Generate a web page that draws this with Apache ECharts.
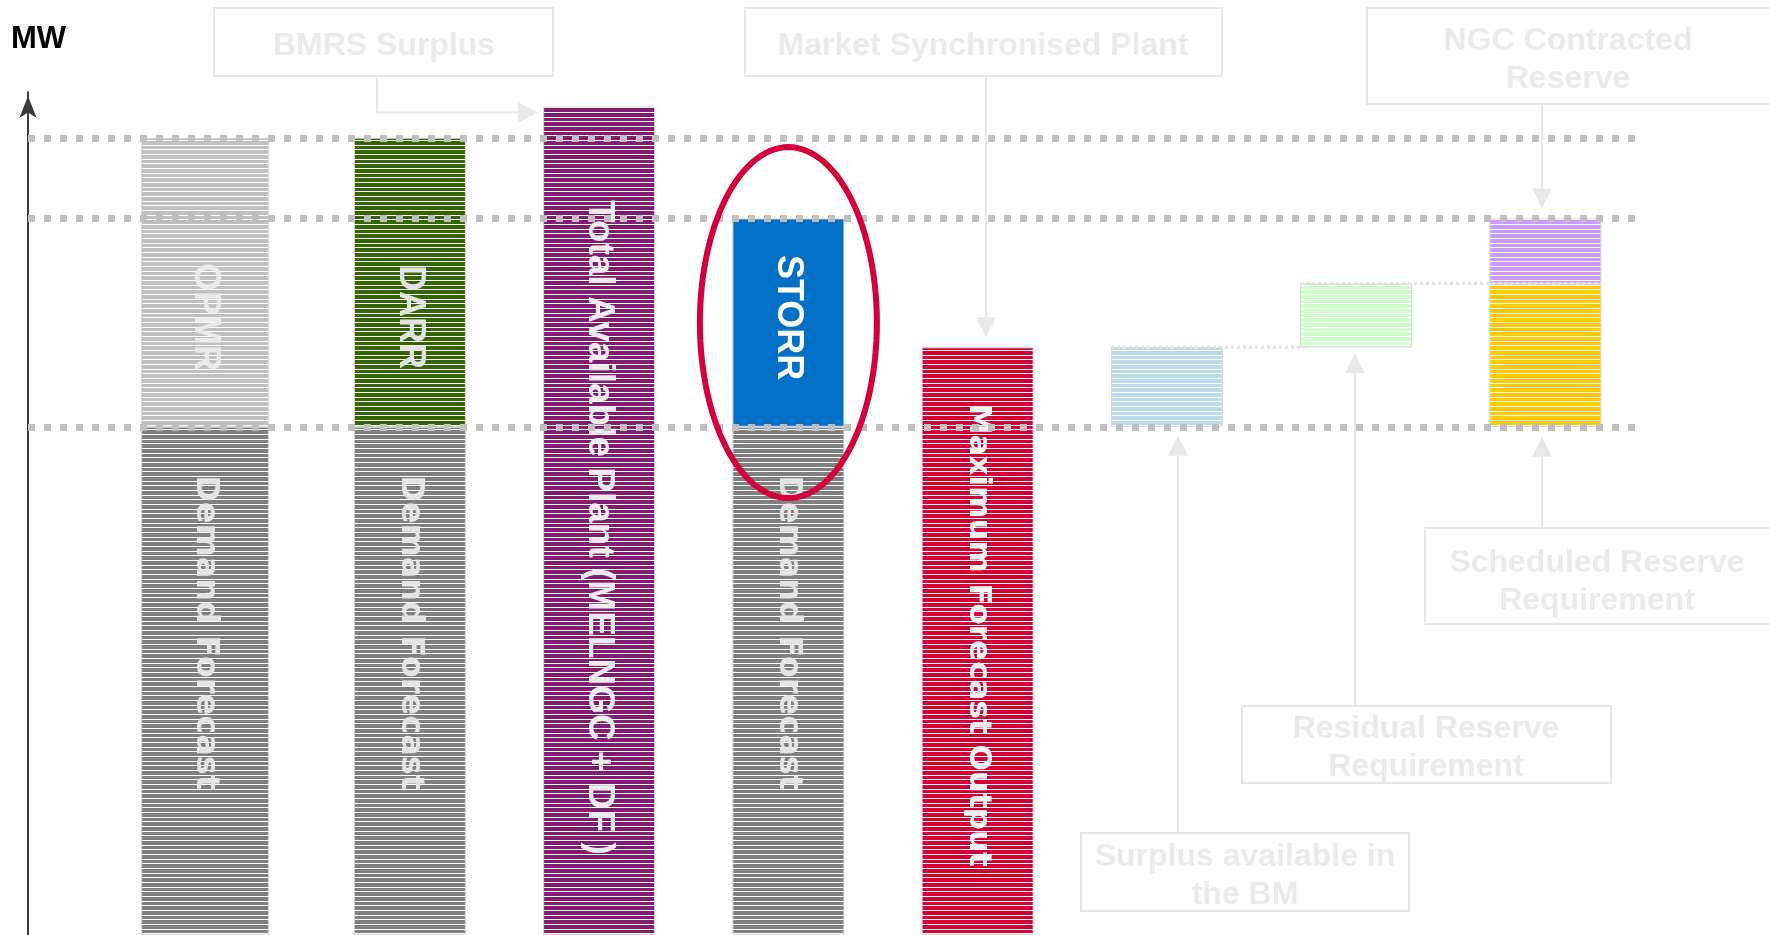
<!DOCTYPE html>
<html>
<head>
<meta charset="utf-8">
<title>Reserve stack</title>
<script src="https://cdn.jsdelivr.net/npm/echarts@6/dist/echarts.min.js"></script>
<style>
  html, body { margin: 0; padding: 0; background: #fff; }
  #chart { width: 1770px; height: 935px; }
</style>
</head>
<body>
<div id="chart"></div>
<script>
// columns, left to right
const categories = ['OPMR', 'DARR', 'Total Available Plant', 'STORR', 'Maximum Forecast Output',
  'Surplus available in the BM', 'Residual Reserve Requirement', 'Scheduled Reserve Requirement'];

// MW - the original has no scale, values are read proportionally off the picture
const demandForecast   = [42200, 42200, '-', 42200, '-', '-', '-', '-'];
const floatBase        = ['-', '-', '-', '-', '-', 42200, 48800, 42200];
const opmr             = [24000, '-', '-', '-', '-', '-', '-', '-'];
const darr             = ['-', 24000, '-', '-', '-', '-', '-', '-'];
const totalAvailable   = ['-', '-', 68800, '-', '-', '-', '-', '-'];
const storr            = ['-', '-', '-', 17300, '-', '-', '-', '-'];
const maxForecast      = ['-', '-', '-', '-', 48800, '-', '-', '-'];
const surplusBM        = ['-', '-', '-', '-', '-', 6600, '-', '-'];
const residualReserve  = ['-', '-', '-', '-', '-', '-', 5300, '-'];
const scheduledReserve = ['-', '-', '-', '-', '-', '-', '-', 11900];
const ngcContracted    = ['-', '-', '-', '-', '-', '-', '-', 5400];
const axisMax = 70000;

// dashed reference levels
const levels = [demandForecast[0] + opmr[0], demandForecast[3] + storr[3], demandForecast[0]];

const chart = echarts.init(document.getElementById('chart'));

const W = 112;   // normal column
const W0 = 128;  // first column is a bit wider
const EDGE = '#d6d6d6';

// horizontal white pin-stripes like the original fills
function striped(color) {
  const c = document.createElement('canvas');
  c.width = 4; c.height = 14;
  const g = c.getContext('2d');
  g.fillStyle = color;
  g.fillRect(0, 0, 4, 14);
  g.fillStyle = '#ffffff';
  [0, 5, 9].forEach(y => g.fillRect(0, y, 4, 1));
  return { image: c, repeat: 'repeat' };
}

const onlyFirst = arr => arr.map((v, i) => (i === 0 ? v : '-'));
const noFirst = arr => arr.map((v, i) => (i === 0 ? '-' : v));

const arial = { fontFamily: '"Liberation Sans", Arial', fontWeight: 'bold', fontSize: 36 };
const verdana = { fontFamily: '"DejaVu Sans", Verdana', fontWeight: 'bold', fontSize: 32 };

function vLabel(text, pos, style) {
  return Object.assign({
    show: true, formatter: text, position: ['50%', pos], rotate: -90,
    align: 'center', verticalAlign: 'middle'
  }, style);
}

function bar(name, data, color, label, extra) {
  return Object.assign({
    name: name, type: 'bar', stack: 'col', barWidth: W, data: data,
    itemStyle: { color: color, borderColor: EDGE, borderWidth: 1 },
    label: label || { show: false },
    emphasis: { disabled: true }, silent: true
  }, extra || {});
}

// first column sits on its own (hidden) axis so it can be wider and nudged left
const firstCol = { xAxisIndex: 1, stack: 'first', barWidth: W0, barGap: 0 };

const series = [
  bar('Demand Forecast', onlyFirst(demandForecast), striped('#808080'),
    vLabel('Demand Forecast', '40.5%', Object.assign({ color: '#e4e4e4' }, verdana)), firstCol),
  bar('OPMR', onlyFirst(opmr), striped('#c0c0c0'),
    vLabel('OPMR', '62%', Object.assign({ color: '#e9e9e9' }, arial)), firstCol),
  // empty spacer stack, only shifts the first column
  bar('pad', categories.map(() => '-'), 'transparent', null,
    { xAxisIndex: 1, stack: 'pad', barWidth: 31, barGap: 0 }),

  bar('Demand Forecast', noFirst(demandForecast), striped('#808080'),
    vLabel('Demand Forecast', '40.5%', Object.assign({ color: '#e4e4e4' }, verdana))),
  bar('base', floatBase, 'transparent', null, { itemStyle: { color: 'transparent' } }),
  bar('DARR', darr, striped('#336600'),
    vLabel('DARR', '62%', Object.assign({ color: '#e2e2e2' }, arial))),
  bar('Total Available Plant', totalAvailable, striped('#811c72'),
    vLabel('Total Available Plant (MELNGC + DF )', '50.8%',
      Object.assign({}, arial, { color: '#ececec', fontSize: 37 }))),
  bar('STORR', storr, '#0270c6',
    vLabel('STORR', '47.6%', Object.assign({ color: '#ffffff' }, arial))),
  bar('Maximum Forecast Output', maxForecast, striped('#d4003a'),
    vLabel('Maximum Forecast Output', '49%', Object.assign({}, verdana, { color: '#f4f4f4', fontSize: 31 }))),
  bar('Surplus available in the BM', surplusBM, striped('#bcdcec')),
  bar('Residual Reserve Requirement', residualReserve, striped('#ccffcc')),
  bar('Scheduled Reserve Requirement', scheduledReserve, striped('#ffcc00')),
  bar('NGC Contracted Reserve', ngcContracted, striped('#cc99ff')),

  {
    name: 'levels', type: 'line', data: [], silent: true,
    markLine: {
      silent: true, symbol: ['none', 'none'], label: { show: false },
      emphasis: { disabled: true },
      lineStyle: { color: '#c0c0c0', width: 7, type: [7, 9], cap: 'butt' },
      data: levels.map(v => [{ x: 28, yAxis: v }, { x: 1638, yAxis: v }])
    }
  }
];

chart.setOption({
  animation: false,
  backgroundColor: '#ffffff',
  grid: { left: 126, right: 130, top: 92, bottom: 0 },
  xAxis: [
    { type: 'category', data: categories, show: false },
    { type: 'category', data: categories, show: false, position: 'top' }
  ],
  yAxis: {
    type: 'value', min: 0, max: axisMax, offset: 98,
    name: 'MW', nameLocation: 'end', nameGap: 53,
    nameTextStyle: {
      fontFamily: '"Liberation Sans", Arial', fontWeight: 'bold', fontSize: 31, color: '#000',
      align: 'center', verticalAlign: 'middle', padding: [0, 0, 0, 21]
    },
    axisLine: {
      show: true, symbol: ['none', 'arrow'], symbolSize: [13, 22], symbolOffset: [0, -4],
      lineStyle: { color: '#3c3c3c', width: 2 }
    },
    axisTick: { show: false }, axisLabel: { show: false }, splitLine: { show: false }
  },
  series: series
});

// ---- call-out boxes, arrows, connectors and the ring round STORR ----
const px = (i, v) => chart.convertToPixel({ xAxisIndex: 0, yAxisIndex: 0 }, [i, v]);
const NOTE = '#e8e8e8';
const noteFont = 'bold 32px "Liberation Sans", Arial';
const els = [];

function noteBox(x, y, w, h, text, tx, ty) {
  els.push({ type: 'rect', shape: { x: x, y: y, width: w, height: h },
    style: { fill: 'transparent', stroke: NOTE, lineWidth: 2 } });
  els.push({ type: 'text', x: tx, y: ty,
    style: { text: text, font: noteFont, fill: '#ebebeb', align: 'center', verticalAlign: 'middle',
      textAlign: 'center', textVerticalAlign: 'middle', lineHeight: 38 } });
}
function line(x1, y1, x2, y2) {
  els.push({ type: 'line', shape: { x1: x1, y1: y1, x2: x2, y2: y2 }, style: { stroke: NOTE, lineWidth: 2 } });
}
function tri(pts) {
  els.push({ type: 'polygon', shape: { points: pts }, style: { fill: NOTE } });
}
function arrowDown(x, yFrom, yTip) { line(x, yFrom, x, yTip - 20); tri([[x, yTip], [x - 10, yTip - 20], [x + 10, yTip - 20]]); }
function arrowUp(x, yFrom, yTip) { line(x, yFrom, x, yTip + 20); tri([[x, yTip], [x - 10, yTip + 20], [x + 10, yTip + 20]]); }
function dotted(x1, x2, y) {
  els.push({ type: 'line', shape: { x1: x1, y1: y, x2: x2, y2: y },
    style: { stroke: '#e2e2e2', lineWidth: 3, lineDash: [3, 3] } });
}

const purple = px(2, totalAvailable[2]);
const red = px(4, maxForecast[4]);
const blueTop = px(5, floatBase[5] + surplusBM[5]);
const blueBot = px(5, floatBase[5]);
const greenTop = px(6, floatBase[6] + residualReserve[6]);
const greenBot = px(6, floatBase[6]);
const lavTop = px(7, floatBase[7] + scheduledReserve[7] + ngcContracted[7]);
const yellowBot = px(7, floatBase[7]);
const storrTop = px(3, demandForecast[3] + storr[3]);
const storrBot = px(3, demandForecast[3]);

noteBox(214, 8, 339, 68, 'BMRS Surplus', 384, 46);
const bmrsY = purple[1] + 6;
const bmrsTip = purple[0] - W / 2 - 5;
els.push({ type: 'polyline', shape: { points: [[377, 76], [377, bmrsY], [bmrsTip - 20, bmrsY]] },
  style: { stroke: NOTE, lineWidth: 2, fill: null } });
tri([[bmrsTip, bmrsY], [bmrsTip - 20, bmrsY - 10], [bmrsTip - 20, bmrsY + 10]]);

noteBox(745, 8, 477, 68, 'Market Synchronised Plant', 983, 46);
arrowDown(986, 76, red[1] - 10);

noteBox(1367, 8, 420, 96, 'NGC Contracted\nReserve', 1568, 60);
arrowDown(1542, 104, lavTop[1] - 10);

noteBox(1425, 528, 360, 96, 'Scheduled Reserve\nRequirement', 1597, 582);
arrowUp(1542, 528, yellowBot[1] + 10);

noteBox(1242, 706, 369, 77, 'Residual Reserve\nRequirement', 1426, 748);
arrowUp(1355, 706, greenBot[1] + 6);

noteBox(1081, 833, 328, 78, 'Surplus available in\nthe BM', 1245, 876);
arrowUp(1178, 833, blueBot[1] + 9);

dotted(blueTop[0] - W / 2, greenTop[0] - W / 2, blueTop[1]);
dotted(greenTop[0] - W / 2, lavTop[0] + W / 2, greenTop[1]);

// red ring round the STORR block
const cx = storrTop[0], cy = (storrTop[1] + storrBot[1]) / 2;
const ring = [];
for (let k = 0; k < 120; k++) {
  const t = (k / 120) * Math.PI * 2;
  ring.push([cx + 88.5 * Math.cos(t), cy + 175.5 * Math.sin(t)]);
}
els.push({ type: 'polygon', shape: { points: ring }, style: { fill: 'transparent', stroke: '#d4003a', lineWidth: 6 } });

chart.setOption({ graphic: { elements: els.map(e => Object.assign({ silent: true, z: 50 }, e)) } });
</script>
</body>
</html>
